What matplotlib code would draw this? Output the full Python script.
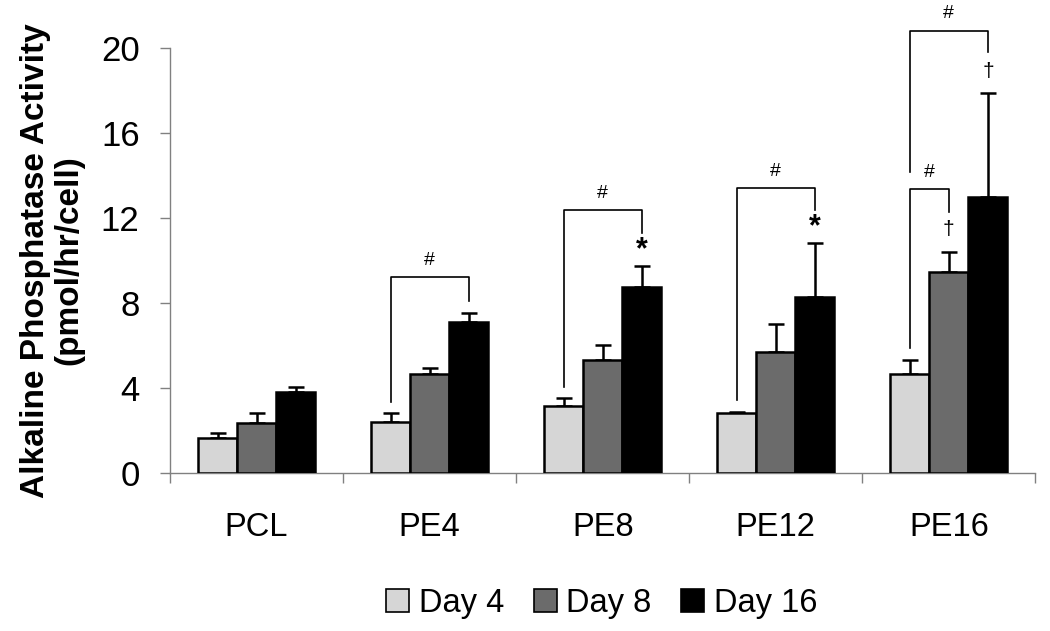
import matplotlib
matplotlib.use('Agg')
from matplotlib import pyplot as plt
from matplotlib.patches import Patch
import numpy as np

plt.rcParams['font.family'] = ['Liberation Sans', 'DejaVu Sans']

groups = ['PCL', 'PE4', 'PE8', 'PE12', 'PE16']
days = ['Day 4', 'Day 8', 'Day 16']
day4 = [1.65, 2.41, 3.16, 2.83, 4.67]
day8 = [2.36, 4.67, 5.33, 5.71, 9.48]
day16 = [3.82, 7.12, 8.77, 8.30, 12.97]
day4_err = [0.24, 0.42, 0.38, 0.05, 0.66]
day8_err = [0.47, 0.28, 0.71, 1.32, 0.94]
day16_err = [0.24, 0.43, 0.95, 2.5, 4.91]
colors = ['#d6d6d6', '#6b6b6b', '#000000']

# significance brackets: group, from bar, to bar, left leg bottom, right leg bottom, top
brackets = [
    (1, 0, 2, 3.35, 8.1, 9.2),
    (2, 0, 2, 4.06, 11.3, 12.36),
    (3, 0, 2, 3.44, 12.36, 13.4),
    (4, 0, 1, 5.9, 12.3, 13.35),
    (4, 0, 2, 14.15, 19.8, 20.8),
]
# markers above bars: group, bar, y, symbol
marks = [
    (2, 2, 10.5, '*'),
    (3, 2, 11.55, '*'),
    (4, 1, 11.46, '†'),
    (4, 2, 18.87, '†'),
]

fig = plt.figure(figsize=(10.5, 6.31), dpi=100)
ax = fig.add_axes([0.162, 0.2504, 0.824, 0.6736])

x = np.arange(len(groups))
w = 0.226
offsets = [-w, 0, w]
series = [day4, day8, day16]
errs = [day4_err, day8_err, day16_err]
for i in range(3):
    ax.bar(x + offsets[i], series[i], w, color=colors[i], edgecolor='black',
           linewidth=1.8, zorder=3)
    ax.errorbar(x + offsets[i], series[i], yerr=[np.zeros(5), errs[i]], fmt='none',
                ecolor='black', elinewidth=1.8, capsize=5.5, capthick=1.8, zorder=2)

for g, a, b, yl, yr, yt in brackets:
    xa = g + offsets[a]
    xb = g + offsets[b]
    ax.plot([xa, xa, xb, xb], [yl, yt, yt, yr], color='black', linewidth=1.2,
            clip_on=False, zorder=4)
    ax.text((xa + xb) / 2, yt + 0.8, '#', ha='center', va='center', fontsize=14,
            clip_on=False)

for g, b, y, s in marks:
    if s == '*':
        ax.text(g + offsets[b], y, s, ha='center', va='center', fontsize=22,
                fontweight='bold', clip_on=False)
    else:
        ax.text(g + offsets[b], y, s, ha='center', va='center', fontsize=15,
                clip_on=False)

ax.set_xlim(-0.5, 4.5)
ax.set_ylim(0, 20)
ax.set_yticks([0, 4, 8, 12, 16, 20])
ax.set_xticks(x)
ax.set_xticklabels(groups)
ax.set_xticks(np.arange(-0.5, 5, 1), minor=True)
ax.tick_params(axis='x', which='major', length=0, pad=28, labelsize=23.5)
ax.tick_params(axis='x', which='minor', length=7, width=1, color='#808080', direction='out')
ax.tick_params(axis='y', length=7, width=1, color='#808080', pad=15, labelsize=25)

for s in ['top', 'right']:
    ax.spines[s].set_visible(False)
for s in ['left', 'bottom']:
    ax.spines[s].set_color('#808080')
    ax.spines[s].set_linewidth(1)

ax.set_ylabel('Alkaline Phosphatase Activity\n(pmol/hr/cell)', fontsize=24,
              fontweight='bold', labelpad=12, linespacing=1.1)

handles = [Patch(facecolor=colors[i], edgecolor='black', linewidth=1.2) for i in range(3)]
fig.legend(handles, days, loc='center', bbox_to_anchor=(0.573, 0.044), ncol=3,
           frameon=False, fontsize=23.5, handlelength=0.7, handleheight=0.7,
           handletextpad=0.3, columnspacing=0.9)

plt.savefig('out.png', dpi=100)
